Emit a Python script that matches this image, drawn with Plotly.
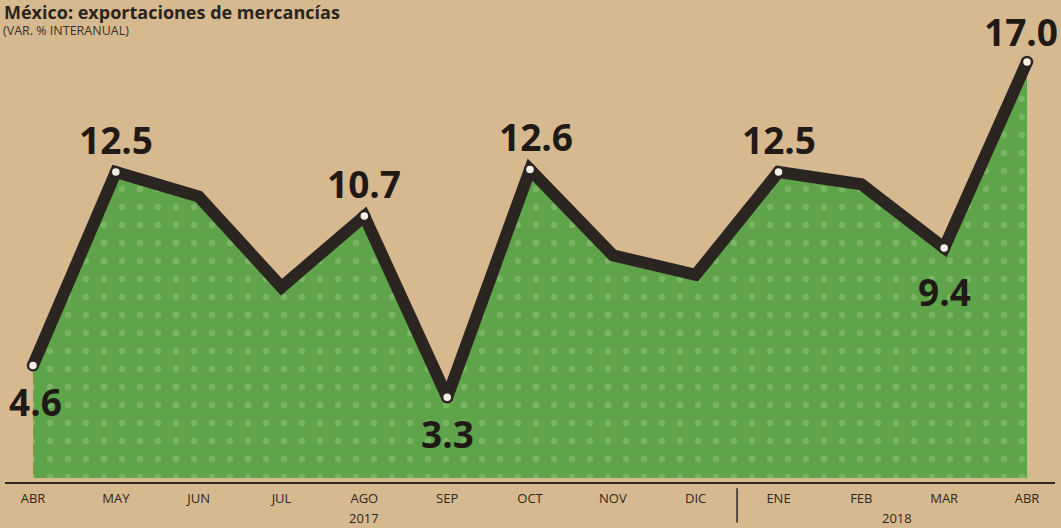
import plotly.graph_objects as go

months = ["ABR", "MAY", "JUN", "JUL", "AGO", "SEP", "OCT", "NOV", "DIC", "ENE", "FEB", "MAR", "ABR"]
values = [4.6, 12.5, 11.5, 7.8, 10.7, 3.3, 12.6, 9.1, 8.3, 12.5, 12.0, 9.4, 17.0]
labeled = [0, 1, 4, 5, 6, 9, 11, 12]
label_side = ["below", "above", "above", "below", "above", "above", "below", "above"]
years = ["2017", "2018"]
year_pos = [4, 10.43]

x = list(range(len(months)))

BG = "#d7b98f"
GREEN = "#5fa34a"
LINE = "#2a2521"
TEXT = "#2e2720"

fig = go.Figure()
fig.add_trace(go.Scatter(
    x=x, y=values, mode="lines", fill="tozeroy",
    fillcolor=GREEN,
    fillpattern=dict(shape=".", size=18, solidity=0.1, fgcolor="#79b563", bgcolor=GREEN, fillmode="replace"),
    line=dict(color=LINE, width=12, shape="linear"),
    hoverinfo="skip", cliponaxis=False,
))
fig.add_trace(go.Scatter(
    x=[x[i] for i in labeled], y=[values[i] for i in labeled], mode="markers",
    marker=dict(size=10, color="#f4efe4", line=dict(color=LINE, width=2.5)),
    hoverinfo="skip", cliponaxis=False,
))

for i, side in zip(labeled, label_side):
    shift = 33 if side == "above" else -36
    xs = 0
    if i == 11:
        shift = -44
    if i == 0:
        xs = 2
    if i == 6:
        xs = 6
    if i == 12:
        xs = -6
        shift = 30
    fig.add_annotation(x=x[i], y=values[i], text=f"{values[i]:.1f}", showarrow=False,
                       yshift=shift, xshift=xs,
                       font=dict(family="Open Sans, sans-serif", size=37, color="#1f1a16", weight="bold"))

for yr, xp in zip(years, year_pos):
    fig.add_annotation(x=xp, y=-0.075, yref="paper", text=yr, showarrow=False,
                       font=dict(family="Open Sans, sans-serif", size=13, color=TEXT), yanchor="middle")

fig.add_shape(type="line", x0=8.5, x1=8.5, y0=-0.013, y1=-0.084, yref="paper",
              line=dict(color=TEXT, width=1.5))

fig.add_annotation(x=0.0, y=1.0, xref="paper", yref="paper", xshift=-3, yshift=2,
                   text="<b>México: exportaciones de mercancías</b>",
                   showarrow=False, xanchor="left", yanchor="top",
                   font=dict(family="Open Sans, sans-serif", size=18, color="#2a2420"))
fig.add_annotation(x=0.0, y=1.0, xref="paper", yref="paper", xshift=-4, yshift=-30, text="(VAR. % INTERANUAL)",
                   showarrow=False, xanchor="left", yanchor="middle",
                   font=dict(family="Open Sans, sans-serif", size=12.5, color="#3a3128"))

fig.update_layout(
    width=1061, height=528,
    margin=dict(l=5, r=6, t=0, b=46),
    paper_bgcolor=BG, plot_bgcolor=BG,
    showlegend=False,
    xaxis=dict(range=[-0.338, 12.338], tickvals=x, ticktext=months, showgrid=False, zeroline=False,
               showline=True, linecolor=TEXT, linewidth=1.5, ticks="",
               tickfont=dict(family="Open Sans, sans-serif", size=13, color=TEXT), ticklabelstandoff=4),
    yaxis=dict(range=[-0.163, 19.53], visible=False, showgrid=False, zeroline=False),
)

fig.write_html("out.html", config={"displayModeBar": False},
               post_script="document.body.style.margin='0';document.body.style.padding='0';document.body.style.overflow='hidden';")
